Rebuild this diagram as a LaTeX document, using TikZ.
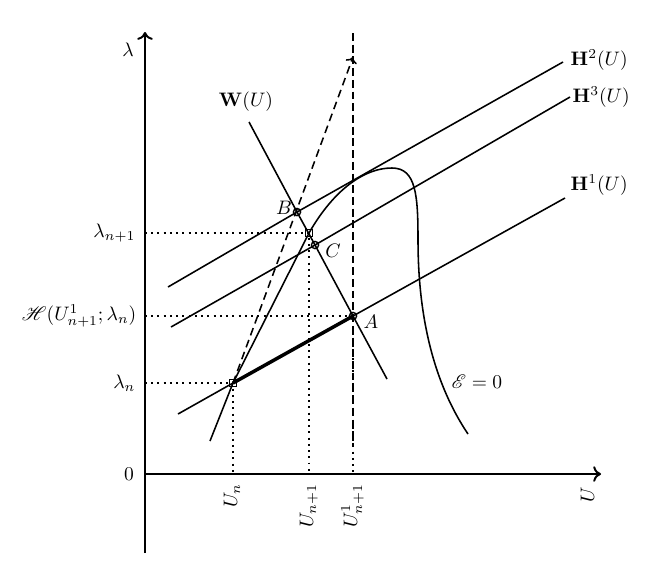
\documentclass[tikz,border=0pt]{standalone}
\usepackage{amsmath}
\usepackage{amssymb}
\usepackage{mathrsfs}
\usetikzlibrary{arrows.meta}

\begin{document}
\begin{tikzpicture}[x=0.018cm,y=-0.018cm,line width=0.8pt]
    \tikzstyle{every node}+=[inner sep=1pt]
    \tikzstyle{axis}=[line width=1pt,-{To[length=4pt,width=8pt]}]
    \tikzstyle{proj}=[line width=1pt,dash pattern=on 1pt off 2.2pt]
    \tikzstyle{sqmark}=[draw,rectangle,minimum size=1.3mm,inner sep=0pt,line width=0.7pt]
    \tikzstyle{cmark}=[draw,circle,minimum size=1.3mm,inner sep=0pt,line width=0.7pt]
    \useasboundingbox (0,0) rectangle (660,585);
    % axes
    \coordinate (yb) at (145,553);
    \coordinate (yt) at (145,32);
    \coordinate (o) at (145,474);
    \coordinate (xe) at (601,474);
    \draw [axis] (yb) -- (yt);
    \draw [axis] (o) -- (xe);
    \node (lam) at (128,50) {$\lambda$};
    \node (zero) at (129,474) {$0$};
    \node [rotate=90,anchor=mid east] (ulab) at (590,484) {$U$};
    % points
    \node [sqmark] (pn) at (233,383) {};
    \node [sqmark] (pn1) at (309,233) {};
    \node [cmark] (a) at (353,316) {};
    \node [cmark] (b) at (297,212) {};
    \node [cmark] (c) at (315,245) {};
    % feet on the axes
    \coordinate (un) at (233,474);
    \coordinate (un1) at (309,474);
    \coordinate (u1) at (353,474);
    \coordinate (ln) at (145,383);
    \coordinate (lh) at (145,316);
    \coordinate (ln1) at (145,233);
    \draw [proj] (ln) -- (pn.center) -- (un);
    \draw [proj] (ln1) -- (pn1.center) -- (un1);
    \draw [proj] (lh) -- (a.center) -- (u1);
    % ends of the lines
    \coordinate (h1s) at (178,414);
    \coordinate (h1e) at (565,198);
    \coordinate (h2s) at (168,287);
    \coordinate (h2e) at (563,62);
    \coordinate (h3s) at (171,327);
    \coordinate (h3e) at (570,97);
    \coordinate (ws) at (249,122);
    \coordinate (we) at (387,379);
    \coordinate (vt) at (353,33);
    \coordinate (vb) at (353,447);
    \coordinate (tip) at (353,57);
    \coordinate (cs) at (210,441);
    \coordinate (ce) at (468,434);
    \draw (h1s) -- (pn.center) -- (a.center) -- (h1e);
    \draw (h2s) -- (b.center) -- (h2e);
    \draw (h3s) -- (c.center) -- (h3e);
    \draw (ws) -- (b.center) -- (c.center) -- (a.center) -- (we);
    \draw [line width=1.8pt] (pn.center) -- (a.center);
    \draw [line width=1.2pt,dash pattern=on 4pt off 2pt] (vt) -- (vb);
    \draw [dash pattern=on 4pt off 2.5pt,-{To[length=3pt,width=6pt]}] (pn.center) -- (tip);
    % the curve
    \draw (cs) -- (pn.center) -- (pn1.center)
        .. controls (330,196) and (360,168) .. (392,168)
        .. controls (416,168) and (418,195) .. (418,240)
        .. controls (418,320) and (435,385) .. (ce);
    % labels
    \node [anchor=east] (lab1) at (138,233) {$\lambda_{n+1}$};
    \node [anchor=east] (lab2) at (139,316) {$\mathscr{H}(U^1_{n+1};\lambda_n)$};
    \node [anchor=east] (lab3) at (138,383) {$\lambda_n$};
    \node [rotate=90,anchor=mid east] (lab4) at (233,481) {$U_n$};
    \node [rotate=90,anchor=mid east] (lab5) at (309,481) {$U_{n+1}$};
    \node [rotate=90,anchor=mid east] (lab6) at (353,481) {$U^1_{n+1}$};
    \node (wlab) at (246,102) {$\mathbf{W}(U)$};
    \node [anchor=west] (h2lab) at (568,60) {$\mathbf{H}^2(U)$};
    \node [anchor=west] (h3lab) at (570,97) {$\mathbf{H}^3(U)$};
    \node [anchor=west] (h1lab) at (568,185) {$\mathbf{H}^1(U)$};
    \node (blab) at (284,208) {$B$};
    \node (clab) at (333,251) {$C$};
    \node (alab) at (371,322) {$A$};
    \node [anchor=west] (elab) at (449,382) {$\mathscr{E}=0$};
\end{tikzpicture}
\end{document}
